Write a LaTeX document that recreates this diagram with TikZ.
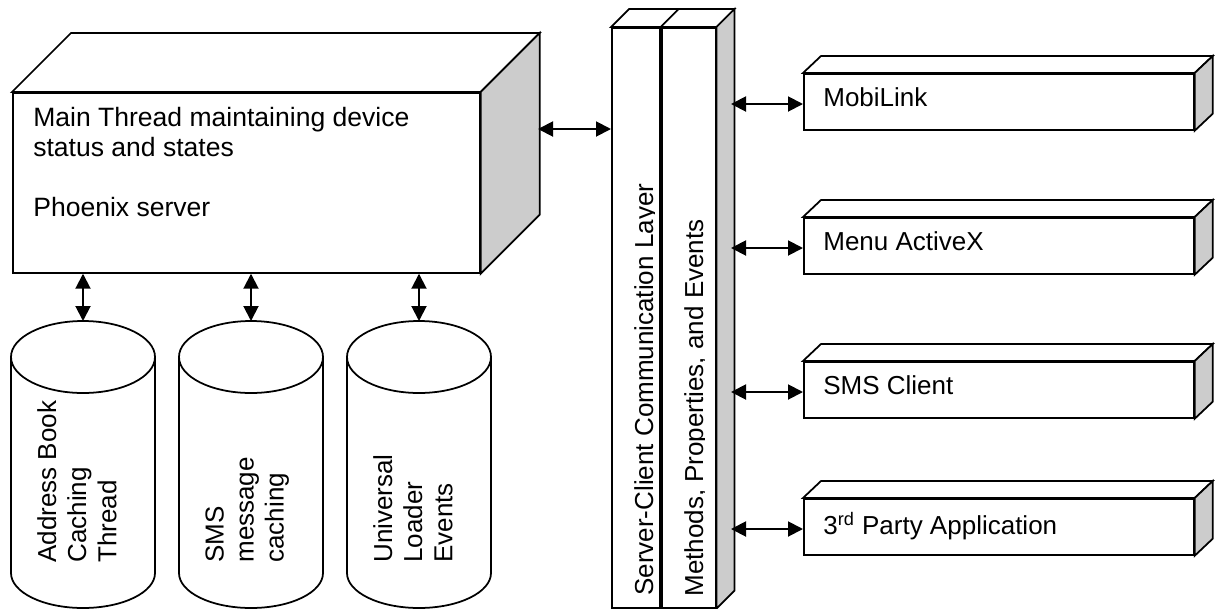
\documentclass[tikz,border=0pt]{standalone}
\usepackage{fontspec}
\setmainfont{Liberation Sans}
\usetikzlibrary{arrows.meta,calc}
\definecolor{sidegray}{RGB}{204,204,204}
\tikzset{
  front/.style={draw, fill=white, line width=1pt, inner sep=0pt},
  face/.style={draw, fill=white, line width=1pt},
  side/.style={face, fill=sidegray},
  txt/.style={inner sep=0pt, align=left},
  link/.style={line width=1.1pt, {Triangle[length=0.3cm,width=0.3cm]}-{Triangle[length=0.3cm,width=0.3cm]}},
}

\begin{document}
\begin{tikzpicture}[x=0.02cm, y=-0.02cm, font=\fontsize{14.8}{17.1}\selectfont]
  \useasboundingbox (0,0) rectangle (1215,609);

  % phoenix server
  \node[front, minimum width=9.34cm, minimum height=3.6cm, anchor=north west] (main) at (12,92) {};
  \draw[face] (main.north west) -- ++(59,-59) -- ($(main.north east)+(59,-59)$) -- (main.north east) -- cycle;
  \draw[side] (main.north east) -- ++(59,-59) -- ($(main.south east)+(59,-59)$) -- (main.south east) -- cycle;
  \node[txt, anchor=north west, font=\fontsize{15.1}{17.1}\selectfont] (mainlbl) at (33,107) {Main Thread maintaining device\\status and states\\[0.6cm]Phoenix server};

  % caches
  \foreach \cx/\n/\t in {83/abc/{Address Book\\Caching\\Thread}, 251/smc/{SMS\\message\\caching}, 419/ulc/{Universal\\Loader\\Events}}{
    \draw[face] (\cx-72,357) -- (\cx-72,573) arc[start angle=180, end angle=0, x radius=72, y radius=35] -- (\cx+72,357);
    \draw[face] (\cx,357) ellipse[x radius=72, y radius=36];
    \coordinate (\n) at (\cx,321);
    \node[txt, rotate=90, anchor=north west] (\n lbl) at (\cx-46,563) {\t};
    \draw[link] (main.south -| \n) -- (\n);
  }

  % communication layer
  \node[front, minimum width=0.96cm, minimum height=11.6cm, anchor=north west] (layer) at (611,27) {};
  \node[front, minimum width=1.08cm, minimum height=11.6cm, anchor=north west] (methods) at (layer.north east) {};
  \draw[face] (layer.north west) -- ++(18,-18) -- ($(layer.north east)+(18,-18)$) -- (layer.north east) -- cycle;
  \draw[face] (methods.north west) -- ++(18,-18) -- ($(methods.north east)+(18,-18)$) -- (methods.north east) -- cycle;
  \draw[side] (methods.north east) -- ++(18,-18) -- ($(methods.south east)+(18,-18)$) -- (methods.south east) -- cycle;
  \begin{scope}
    \clip (611,27) rectangle (654.5,607);
    \node[txt, rotate=90, anchor=base west] (layerlbl) at (653,596) {Server-Client Communication Layer};
  \end{scope}
  \begin{scope}
    \clip (659,27) rectangle (704.5,607);
    \node[txt, rotate=90, anchor=base west] (methodslbl) at (703,597) {Methods, Properties, and Events};
  \end{scope}
  \coordinate (rcol) at (731,300);
  \coordinate (mainback) at (538,129);
  \draw[link] (mainback) -- (mainback -| layer.west);

  % clients
  \foreach \n/\t/\y in {mobi/MobiLink/73, menu/Menu ActiveX/217, smscl/SMS Client/361, third/3\textsuperscript{rd} Party Application/498}{
    \node[front, minimum width=7.8cm, minimum height=1.12cm, anchor=north west] (\n) at (803,\y) {};
    \draw[face] (\n.north west) -- ++(18,-17) -- ($(\n.north east)+(18,-17)$) -- (\n.north east) -- cycle;
    \draw[side] (\n.north east) -- ++(18,-17) -- ($(\n.south east)+(18,-17)$) -- (\n.south east) -- cycle;
    \node[txt, anchor=north west] (\n lbl) at (823,\y+14) {\t};
    \coordinate (\n-in) at (803,\y+31);
    \draw[link] (rcol |- \n-in) -- (\n-in);
  }
\end{tikzpicture}
\end{document}
